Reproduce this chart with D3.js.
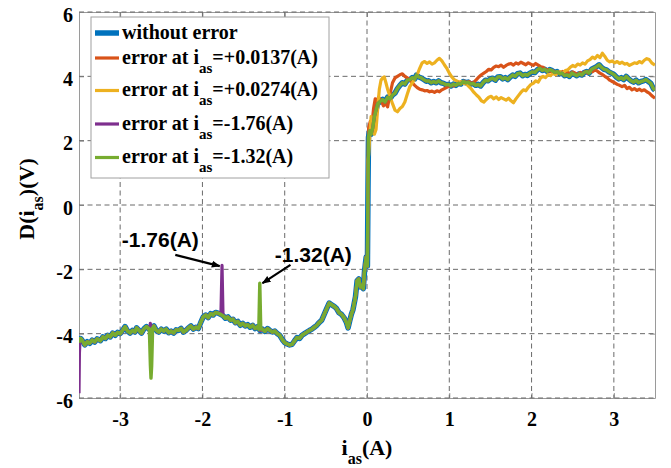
<!DOCTYPE html>
<html>
<head>
<meta charset="utf-8">
<script src="https://cdn.jsdelivr.net/npm/d3@7"></script>
<style>
  body { margin: 0; background: #fff; }
  svg { display: block; }
</style>
</head>
<body>
<script>
var W = 671, H = 468;
var margin = {top: 12, right: 16, bottom: 70, left: 79};

// axis ranges and ticks
var xTicks = [-3, -2, -1, 0, 1, 2, 3];
var yTicks = [-6, -4, -2, 0, 2, 4, 6];
var xDomain = [-3.5, 3.5];
var yDomain = [-6, 6];

var seriesNames = ["without error", "error at i_{as}=+0.0137(A)", "error at i_{as}=+0.0274(A)",
                   "error at i_{as}=-1.76(A)", "error at i_{as}=-1.32(A)"];
var seriesColors = ["#0072BD", "#D95319", "#EDB120", "#7E2F8E", "#77AC30"];

// D(i_as) without error, [i_as, D]
var baseData = [[-3.50,-4.28],[-3.48,-4.15],[-3.46,-4.22],[-3.43,-4.35],[-3.40,-4.25],[-3.37,-4.30],[-3.34,-4.20],[-3.31,-4.26],[-3.28,-4.16],[-3.24,-4.22],[-3.21,-4.10],[-3.18,-4.15],[-3.15,-4.05],[-3.12,-4.10],[-3.09,-3.98],[-3.06,-4.05],[-3.03,-3.96],[-3.00,-4.00],[-2.97,-3.90],[-2.94,-3.78],[-2.91,-3.92],[-2.88,-3.98],[-2.85,-3.90],[-2.82,-3.95],[-2.80,-3.82],[-2.77,-3.90],[-2.74,-3.98],[-2.71,-3.85],[-2.68,-3.78],[-2.65,-3.86],[-2.62,-3.82],[-2.59,-3.76],[-2.56,-3.90],[-2.53,-3.95],[-2.50,-3.86],[-2.47,-3.92],[-2.44,-3.86],[-2.41,-3.97],[-2.38,-3.92],[-2.35,-3.98],[-2.32,-3.88],[-2.29,-3.90],[-2.26,-3.84],[-2.23,-3.95],[-2.20,-3.90],[-2.17,-3.82],[-2.14,-3.76],[-2.11,-3.86],[-2.08,-3.80],[-2.05,-3.84],[-2.02,-3.65],[-1.99,-3.48],[-1.96,-3.42],[-1.93,-3.50],[-1.90,-3.38],[-1.87,-3.42],[-1.84,-3.34],[-1.81,-3.36],[-1.78,-3.40],[-1.75,-3.44],[-1.72,-3.52],[-1.69,-3.48],[-1.66,-3.58],[-1.63,-3.55],[-1.60,-3.66],[-1.57,-3.62],[-1.54,-3.74],[-1.51,-3.68],[-1.48,-3.76],[-1.45,-3.72],[-1.42,-3.80],[-1.39,-3.74],[-1.36,-3.84],[-1.33,-3.78],[-1.30,-3.90],[-1.27,-3.86],[-1.24,-3.93],[-1.21,-3.84],[-1.18,-3.90],[-1.15,-3.95],[-1.12,-3.92],[-1.09,-4.00],[-1.06,-4.05],[-1.03,-4.18],[-1.00,-4.28],[-0.97,-4.32],[-0.94,-4.35],[-0.91,-4.33],[-0.88,-4.22],[-0.85,-4.12],[-0.82,-4.15],[-0.79,-4.05],[-0.76,-4.00],[-0.73,-3.95],[-0.70,-3.90],[-0.67,-3.86],[-0.64,-3.80],[-0.61,-3.74],[-0.58,-3.65],[-0.55,-3.58],[-0.52,-3.40],[-0.49,-3.22],[-0.46,-3.05],[-0.43,-3.10],[-0.40,-3.15],[-0.37,-3.22],[-0.34,-3.35],[-0.31,-3.40],[-0.28,-3.50],[-0.25,-3.65],[-0.23,-3.82],[-0.21,-3.60],[-0.19,-3.40],[-0.17,-3.25],[-0.14,-2.85],[-0.12,-2.35],[-0.10,-2.30],[-0.08,-2.55],[-0.06,-2.50],[-0.045,-2.60],[-0.03,-2.05],[-0.01,-1.62],[0.005,-1.90],[0.012,0.50],[0.018,2.10],[0.03,2.30],[0.05,2.20],[0.07,2.40],[0.09,2.75],[0.11,2.95],[0.13,3.15],[0.16,3.22],[0.19,3.28],[0.22,3.20],[0.25,3.35],[0.28,3.30],[0.31,3.42],[0.34,3.48],[0.37,3.62],[0.40,3.72],[0.43,3.80],[0.46,3.76],[0.49,3.88],[0.52,3.90],[0.55,3.96],[0.58,3.92],[0.60,4.04],[0.63,3.98],[0.66,3.95],[0.69,3.90],[0.72,3.85],[0.75,3.86],[0.78,3.80],[0.81,3.84],[0.84,3.80],[0.87,3.86],[0.90,3.80],[0.93,3.78],[0.96,3.74],[0.99,3.75],[1.02,3.70],[1.05,3.76],[1.08,3.72],[1.11,3.78],[1.14,3.76],[1.17,3.84],[1.20,3.80],[1.23,3.82],[1.26,3.76],[1.29,3.78],[1.32,3.72],[1.35,3.75],[1.38,3.70],[1.41,3.80],[1.44,3.88],[1.47,3.86],[1.50,3.92],[1.53,3.94],[1.56,3.88],[1.59,3.98],[1.62,3.99],[1.65,3.92],[1.68,3.96],[1.71,3.90],[1.74,3.98],[1.77,4.04],[1.80,4.00],[1.83,4.08],[1.86,4.10],[1.89,4.02],[1.92,4.06],[1.95,4.03],[1.98,4.10],[2.01,4.14],[2.04,4.12],[2.07,4.20],[2.10,4.25],[2.13,4.18],[2.16,4.22],[2.19,4.15],[2.22,4.21],[2.25,4.18],[2.28,4.12],[2.31,4.15],[2.34,4.08],[2.37,4.10],[2.40,4.02],[2.43,4.05],[2.46,4.00],[2.49,4.10],[2.52,4.06],[2.55,4.02],[2.58,4.08],[2.61,4.04],[2.64,4.12],[2.67,4.15],[2.70,4.10],[2.73,4.22],[2.76,4.26],[2.79,4.30],[2.82,4.36],[2.85,4.28],[2.88,4.22],[2.91,4.20],[2.94,4.14],[2.97,4.10],[3.00,4.06],[3.03,3.98],[3.06,3.92],[3.09,3.96],[3.12,3.90],[3.15,4.00],[3.18,3.92],[3.21,3.86],[3.24,3.82],[3.27,3.88],[3.30,3.80],[3.33,3.84],[3.36,3.86],[3.39,3.90],[3.42,3.84],[3.45,3.78],[3.48,3.62],[3.50,3.57]];

// error at +0.0137 A, only the part right of the jump differs
var orangeRight = [[0.005,-1.90],[0.012,1.00],[0.02,2.40],[0.04,2.60],[0.06,2.50],[0.08,3.00],[0.10,3.30],[0.12,3.20],[0.14,3.35],[0.17,3.25],[0.20,3.08],[0.23,3.15],[0.25,3.05],[0.28,3.45],[0.31,3.80],[0.34,3.95],[0.37,4.00],[0.40,4.05],[0.43,4.08],[0.46,4.00],[0.49,3.95],[0.52,3.90],[0.55,3.80],[0.58,3.72],[0.61,3.65],[0.64,3.60],[0.67,3.58],[0.70,3.55],[0.73,3.56],[0.76,3.52],[0.79,3.54],[0.82,3.50],[0.85,3.55],[0.88,3.52],[0.91,3.58],[0.94,3.62],[0.97,3.66],[1.00,3.70],[1.03,3.72],[1.06,3.70],[1.09,3.75],[1.12,3.78],[1.15,3.82],[1.18,3.85],[1.21,3.80],[1.24,3.84],[1.27,3.78],[1.30,3.82],[1.33,3.90],[1.36,3.98],[1.39,4.05],[1.42,4.10],[1.45,4.15],[1.48,4.22],[1.51,4.20],[1.54,4.28],[1.57,4.32],[1.60,4.30],[1.63,4.35],[1.66,4.28],[1.69,4.34],[1.72,4.38],[1.75,4.40],[1.78,4.35],[1.81,4.42],[1.84,4.38],[1.87,4.44],[1.90,4.40],[1.93,4.36],[1.96,4.42],[1.99,4.38],[2.02,4.34],[2.05,4.40],[2.08,4.35],[2.11,4.30],[2.14,4.28],[2.17,4.22],[2.20,4.20],[2.23,4.15],[2.26,4.18],[2.29,4.10],[2.32,4.12],[2.35,4.08],[2.38,4.15],[2.41,4.10],[2.44,4.12],[2.47,4.08],[2.50,4.14],[2.53,4.10],[2.56,4.06],[2.59,4.12],[2.62,4.08],[2.65,4.15],[2.68,4.10],[2.71,4.18],[2.74,4.14],[2.77,4.20],[2.80,4.16],[2.83,4.10],[2.86,4.06],[2.89,4.00],[2.92,3.95],[2.95,3.88],[2.98,3.84],[3.01,3.80],[3.04,3.75],[3.07,3.72],[3.10,3.68],[3.13,3.72],[3.16,3.62],[3.19,3.66],[3.22,3.58],[3.25,3.62],[3.28,3.56],[3.31,3.60],[3.34,3.55],[3.37,3.58],[3.40,3.52],[3.43,3.48],[3.46,3.40],[3.50,3.32]];

// error at +0.0274 A, right of the jump
var yellowRight = [[0.005,-1.90],[0.012,1.40],[0.02,1.55],[0.035,2.20],[0.05,2.75],[0.07,2.50],[0.09,2.20],[0.11,2.35],[0.13,3.00],[0.15,3.60],[0.17,3.88],[0.19,3.95],[0.21,3.98],[0.23,3.80],[0.25,3.60],[0.28,3.37],[0.31,3.15],[0.34,2.95],[0.37,2.90],[0.40,3.00],[0.43,3.06],[0.46,3.20],[0.49,3.45],[0.52,3.68],[0.55,3.80],[0.58,3.92],[0.61,4.05],[0.64,4.25],[0.67,4.42],[0.70,4.46],[0.73,4.40],[0.76,4.45],[0.79,4.38],[0.82,4.42],[0.85,4.50],[0.88,4.56],[0.91,4.48],[0.94,4.36],[0.97,4.25],[1.00,4.10],[1.03,3.98],[1.06,3.90],[1.09,3.86],[1.12,3.82],[1.15,3.84],[1.18,3.78],[1.21,3.76],[1.24,3.68],[1.27,3.60],[1.30,3.50],[1.33,3.42],[1.36,3.35],[1.39,3.24],[1.42,3.20],[1.45,3.28],[1.48,3.35],[1.51,3.38],[1.54,3.30],[1.57,3.36],[1.60,3.28],[1.63,3.34],[1.66,3.30],[1.69,3.26],[1.72,3.32],[1.75,3.24],[1.78,3.18],[1.81,3.30],[1.84,3.40],[1.87,3.50],[1.90,3.58],[1.93,3.55],[1.96,3.66],[1.99,3.74],[2.02,3.78],[2.05,3.86],[2.08,3.82],[2.11,3.95],[2.14,4.00],[2.17,3.96],[2.20,4.06],[2.23,4.02],[2.26,4.10],[2.29,4.05],[2.32,4.12],[2.35,4.15],[2.38,4.10],[2.41,4.18],[2.44,4.20],[2.47,4.28],[2.50,4.34],[2.53,4.30],[2.56,4.38],[2.59,4.35],[2.62,4.42],[2.65,4.38],[2.68,4.48],[2.71,4.52],[2.74,4.60],[2.77,4.55],[2.80,4.65],[2.83,4.58],[2.86,4.72],[2.89,4.62],[2.92,4.50],[2.95,4.45],[2.98,4.48],[3.01,4.42],[3.04,4.46],[3.07,4.40],[3.10,4.44],[3.13,4.38],[3.16,4.40],[3.19,4.34],[3.22,4.38],[3.25,4.42],[3.28,4.40],[3.31,4.46],[3.34,4.42],[3.37,4.50],[3.40,4.55],[3.43,4.52],[3.46,4.42],[3.50,4.35]];

// spikes added to the base curve
var purpleSpikes = [[-3.50,-5.85],[-3.495,-4.60],[-3.488,-4.20],[-2.64,-3.84],[-2.633,-3.68],[-2.626,-3.84],[-1.775,-3.40],[-1.762,-1.88],[-1.750,-3.44]];
var greenSpikes = [[-2.645,-3.85],[-2.632,-5.00],[-2.625,-5.38],[-2.617,-5.00],[-2.605,-3.82],[-1.315,-3.86],[-1.303,-2.43],[-1.291,-3.86]];

// annotations: label, label position, arrow from, arrow to (data units)
var annoText = ["-1.76(A)", "-1.32(A)"];
var annoPos = [[-2.98, -1.31], [-1.12, -1.77]];
var arrowFrom = [[-2.33, -1.55], [-0.93, -1.86]];
var arrowTo = [[-1.79, -1.90], [-1.27, -2.43]];

function merge(base, extra, lo, hi) {
  var kept = base.filter(function(d) { return !extra.some(function(e) { return Math.abs(e[0] - d[0]) < 0.012; }); })
    .filter(function(d) { return d[0] < lo || d[0] > hi; });
  return kept.concat(extra).sort(function(a, b) { return a[0] - b[0]; });
}

var series = [
  baseData,
  merge(baseData, orangeRight, 0.004, 9),
  merge(baseData, yellowRight, 0.004, 9),
  merge(baseData, purpleSpikes, 9, 9),
  merge(baseData, greenSpikes, 9, 9)
];
var widths = [5.5, 3.2, 3.2, 3.2, 3.4];

var width = W - margin.left - margin.right,
    height = H - margin.top - margin.bottom;

var svg = d3.select("body").append("svg")
  .attr("width", W)
  .attr("height", H);

var g = svg.append("g")
  .attr("transform", "translate(" + margin.left + "," + margin.top + ")");

var x = d3.scaleLinear().domain(xDomain).range([0, width]);
var y = d3.scaleLinear().domain(yDomain).range([height, 0]);

var serif = "'Liberation Serif','Times New Roman',serif";
var sans = "'Liberation Sans',Arial,sans-serif";
var fmt = function(d) { return String(d); };   // plain hyphen minus like MATLAB

// axes (MATLAB style, inward ticks, box)
var xAxis = d3.axisBottom(x).tickValues(xTicks).tickFormat(fmt).tickSize(-5).tickSizeOuter(0).tickPadding(14);
var yAxis = d3.axisLeft(y).tickValues(yTicks).tickFormat(fmt).tickSize(-5).tickSizeOuter(0).tickPadding(6);

var gx = g.append("g").attr("transform", "translate(0," + height + ")").call(xAxis);
var gy = g.append("g").call(yAxis);
g.append("g").call(d3.axisTop(x).tickValues(xTicks).tickSize(-5).tickSizeOuter(0).tickFormat(""));
g.append("g").attr("transform", "translate(" + width + ",0)")
  .call(d3.axisRight(y).tickValues(yTicks).tickSize(-5).tickSizeOuter(0).tickFormat(""));

g.selectAll(".domain").attr("stroke", "#9a9a9a").attr("stroke-width", 1);
g.selectAll(".tick line").attr("stroke", "#9a9a9a");
[gx, gy].forEach(function(a) {
  a.selectAll("text")
    .style("font-family", serif)
    .style("font-weight", "bold")
    .style("font-size", "20px")
    .attr("fill", "#000");
});
gy.selectAll("text").attr("dy", "0.45em");

// grid
var grid = g.append("g");
grid.selectAll(".gx").data(xTicks).enter().append("line")
  .attr("x1", function(d) { return x(d); }).attr("x2", function(d) { return x(d); })
  .attr("y1", 0).attr("y2", height);
grid.selectAll(".gy").data(yTicks).enter().append("line")
  .attr("y1", function(d) { return y(d); }).attr("y2", function(d) { return y(d); })
  .attr("x1", 0).attr("x2", width);
grid.selectAll("line")
  .attr("stroke", "#6a6a6a")
  .attr("stroke-width", 1)
  .attr("stroke-dasharray", "5,3.5");

// data lines
svg.append("defs").append("clipPath").attr("id", "clip")
  .append("rect").attr("width", width).attr("height", height + 1);

var line = d3.line()
  .x(function(d) { return x(d[0]); })
  .y(function(d) { return y(d[1]); });

g.append("g").attr("clip-path", "url(#clip)")
  .selectAll("path").data(series).enter().append("path")
  .attr("d", line)
  .attr("fill", "none")
  .attr("stroke", function(d, i) { return seriesColors[i]; })
  .attr("stroke-width", function(d, i) { return widths[i]; })
  .attr("stroke-linejoin", "round");

// subscript text helper
function subText(sel, str, size, subSize, drop) {
  var parts = str.split("_{as}");
  sel.append("tspan").text(parts[0]);
  if (parts.length > 1) {
    sel.append("tspan").attr("dy", drop).style("font-size", subSize + "px").text("as");
    sel.append("tspan").attr("dy", -drop).text(parts[1]);
  }
}

// legend
var lg = svg.append("g");
lg.append("rect")
  .attr("x", 91).attr("y", 17).attr("width", 238).attr("height", 161)
  .attr("fill", "#fff").attr("stroke", "#a0a0a0").attr("stroke-width", 1);
var rowBase = [38.5, 63.5, 96, 129.5, 163];
seriesNames.forEach(function(name, i) {
  lg.append("line")
    .attr("x1", 95).attr("x2", 119)
    .attr("y1", rowBase[i] - 5.5).attr("y2", rowBase[i] - 5.5)
    .attr("stroke", seriesColors[i])
    .attr("stroke-width", i === 0 ? 5.5 : 3.2);
  var t = lg.append("text")
    .attr("x", 122).attr("y", rowBase[i])
    .style("font-family", serif).style("font-weight", "bold").style("font-size", "20px");
  subText(t, name, 20, 15, 9);
});

// axis labels
var xl = svg.append("text")
  .attr("x", margin.left + width / 2).attr("y", 455)
  .attr("text-anchor", "middle")
  .style("font-family", serif).style("font-weight", "bold").style("font-size", "22px");
subText(xl, "i_{as}(A)", 22, 16, 9);

var yl = svg.append("text")
  .attr("transform", "translate(34,199) rotate(-90)")
  .attr("text-anchor", "middle")
  .style("font-family", serif).style("font-weight", "bold").style("font-size", "22px");
subText(yl, "D(i_{as})(V)", 22, 16, 9);

// annotations
svg.append("defs").append("marker")
  .attr("id", "arrow").attr("viewBox", "0 0 10 10")
  .attr("refX", 9).attr("refY", 5)
  .attr("markerWidth", 4).attr("markerHeight", 4)
  .attr("orient", "auto")
  .append("path").attr("d", "M0,1 L10,5 L0,9 Z").attr("fill", "#000");

annoText.forEach(function(t, i) {
  g.append("line")
    .attr("x1", x(arrowFrom[i][0])).attr("y1", y(arrowFrom[i][1]))
    .attr("x2", x(arrowTo[i][0])).attr("y2", y(arrowTo[i][1]))
    .attr("stroke", "#000").attr("stroke-width", 2.2)
    .attr("marker-end", "url(#arrow)");
  g.append("text")
    .attr("x", x(annoPos[i][0])).attr("y", y(annoPos[i][1]))
    .style("font-family", sans).style("font-weight", "bold").style("font-size", "21px")
    .text(t);
});
</script>
</body>
</html>
